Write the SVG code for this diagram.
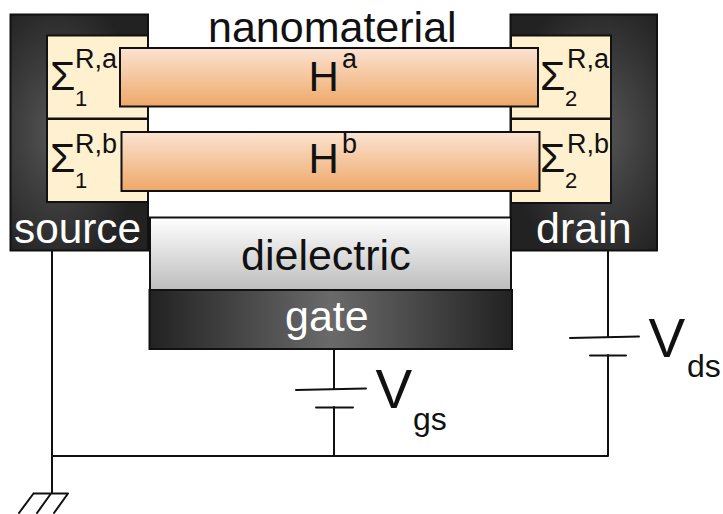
<svg xmlns="http://www.w3.org/2000/svg" width="723" height="514" viewBox="0 0 723 514">
<defs>
<radialGradient id="dsrc" cx="0.33" cy="0.5" r="0.62"><stop offset="0" stop-color="#555"/><stop offset="1" stop-color="#222"/></radialGradient>
<radialGradient id="ddrn" cx="0.62" cy="0.5" r="0.62"><stop offset="0" stop-color="#555"/><stop offset="1" stop-color="#222"/></radialGradient>
<linearGradient id="gat" x1="0" y1="0" x2="1" y2="0"><stop offset="0" stop-color="#222"/><stop offset="0.5" stop-color="#6a6a6a"/><stop offset="1" stop-color="#222"/></linearGradient>
<linearGradient id="die" x1="0" y1="0" x2="0" y2="1"><stop offset="0" stop-color="#fff"/><stop offset="1" stop-color="#bdbdbd"/></linearGradient>
<linearGradient id="ham" x1="0" y1="0" x2="0" y2="1"><stop offset="0" stop-color="#fbe3d2"/><stop offset="1" stop-color="#eeA868"/></linearGradient>
</defs>
<style>
text{font-family:"Liberation Sans",Arial,sans-serif;fill:#111}
.w{fill:#fff}
.b{stroke:#111;stroke-width:2}
.c{fill:#fff0cf;stroke:#111;stroke-width:2}
.h{fill:url(#ham);stroke:#111;stroke-width:2}
.l{fill:none;stroke:#111;stroke-width:2;stroke-linecap:round}
.t{font-size:43px}
.s{font-size:27px}
.n{font-size:22px}
.g{font-size:41px}
.m{font-size:42px}
.v{font-size:55px}
.u{font-size:32px}
</style>
<rect width="723" height="514" fill="#fff"/>
<g id="connectors">
<path class="l" d="M52 251V493M52 456H608M608 251V337M608 355V456M334 349V389M334 407V456"/>
<path class="l" d="M570 338L639 336.500M590 355.500H626M296 390L366 388.500M316 407.500H353"/>
<path class="l" d="M33.500 493.500H68M33.500 493.500L19 513M51 493.500L37 513M68 493.500L54 513"/>
</g>
<g id="source">
<rect class="b" x="10.500" y="14.500" width="137.500" height="236" fill="url(#dsrc)"/>
<text class="t w" x="14" y="243" textLength="127" lengthAdjust="spacingAndGlyphs">source</text>
</g>
<g id="drain">
<rect class="b" x="510.500" y="14.500" width="146.500" height="236" fill="url(#ddrn)"/>
<text class="t w" x="536" y="242.500">drain</text>
</g>
<g id="sigma-1a">
<rect class="c" x="47" y="35.500" width="101" height="83"/>
<text class="g" x="50" y="90">Σ</text>
<text class="s" x="75" y="68">R,a</text>
<text class="n" x="75" y="106">1</text>
</g>
<g id="sigma-1b">
<rect class="c" x="47" y="119" width="101" height="83"/>
<text class="g" x="50" y="172">Σ</text>
<text class="s" x="75" y="153">R,b</text>
<text class="n" x="75" y="188">1</text>
</g>
<g id="sigma-2a">
<rect class="c" x="511" y="35.500" width="100" height="83"/>
<text class="g" x="540" y="90">Σ</text>
<text class="s" x="567" y="68">R,a</text>
<text class="n" x="565" y="106">2</text>
</g>
<g id="sigma-2b">
<rect class="c" x="511" y="119" width="100" height="84"/>
<text class="g" x="540" y="172">Σ</text>
<text class="s" x="567" y="153">R,b</text>
<text class="n" x="565" y="188">2</text>
</g>
<g id="nanomaterial">
<text class="t" x="208" y="42">nanomaterial</text>
</g>
<g id="Ha">
<rect class="h" x="120" y="48" width="418" height="58.500"/>
<text class="m" x="308.500" y="91">H</text>
<text class="s" x="342" y="67.500">a</text>
</g>
<g id="Hb">
<rect class="h" x="121.500" y="132" width="418" height="59"/>
<text class="m" x="308.500" y="173">H</text>
<text class="s" x="342" y="153">b</text>
</g>
<g id="dielectric">
<rect class="b" x="150" y="217.500" width="361" height="72.500" fill="url(#die)"/>
<text class="t" x="241" y="270">dielectric</text>
</g>
<g id="gate">
<rect class="b" x="149.500" y="290" width="362.500" height="59" fill="url(#gat)"/>
<text class="t w" x="285" y="331">gate</text>
</g>
<g id="Vgs">
<text class="v" x="375.500" y="408">V</text>
<text class="u" x="413" y="430">gs</text>
</g>
<g id="Vds">
<text class="v" x="648.500" y="357">V</text>
<text class="u" x="687" y="377">ds</text>
</g>
</svg>
